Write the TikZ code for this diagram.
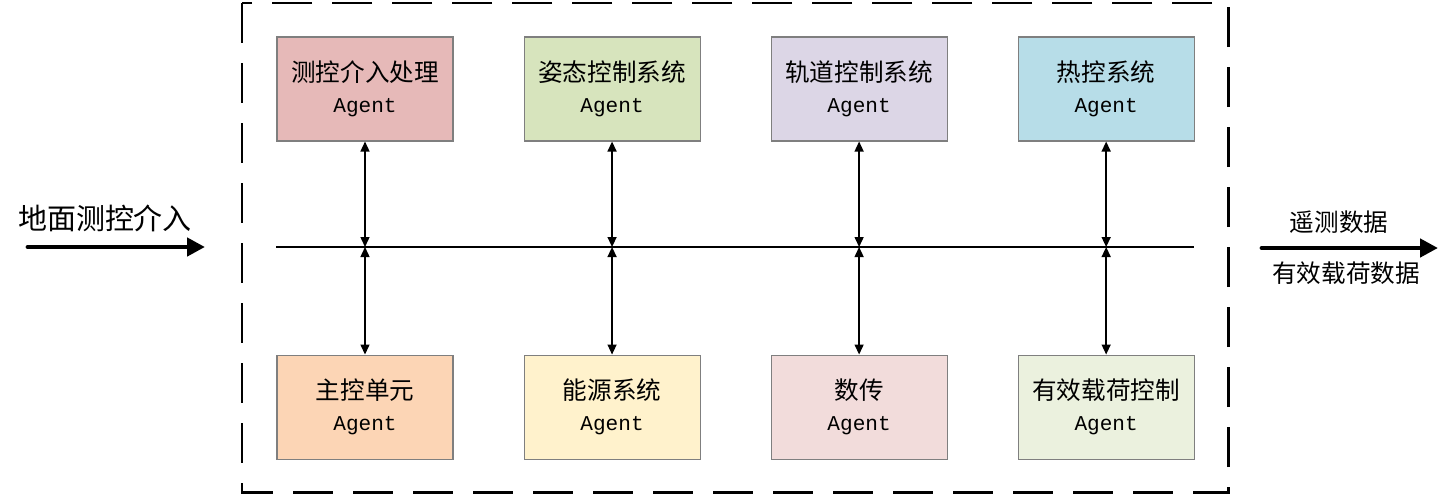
\documentclass[tikz,border=0pt]{standalone}
\usepackage{fontspec}
\newfontfamily\cjk{Noto Sans CJK SC}
\newfontfamily\agentfont{Liberation Mono}
\definecolor{boxGray}{RGB}{127, 127, 127}
\definecolor{ttcRed}{RGB}{230, 185, 184}
\definecolor{adcsGreen}{RGB}{215, 228, 189}
\definecolor{orbLilac}{RGB}{220, 214, 230}
\definecolor{thermBlue}{RGB}{183, 221, 232}
\definecolor{obcPeach}{RGB}{252, 213, 181}
\definecolor{powYellow}{RGB}{255, 242, 204}
\definecolor{dtPink}{RGB}{242, 220, 219}
\definecolor{plGreen}{RGB}{235, 241, 222}
\usetikzlibrary{positioning, arrows.meta}

\newcommand{\agentlabel}[1]{{\cjk #1}\\{\agentfont\fontsize{12}{17.6}\selectfont Agent}}

\begin{document}
\begin{tikzpicture}[
    node distance=4.26cm and 1.4cm,
    agent/.style={rectangle, draw=boxGray, line width=0.6pt, minimum width=3.52cm,
                  minimum height=2.08cm, align=center, inner sep=0pt,
                  font=\fontsize{14}{17.6}\selectfont},
    frame/.style={draw=black, line width=1.7pt, dash pattern=on 0.8cm off 0.4cm},
    link/.style={{Triangle[length=0.2cm, width=0.18cm]}-{Triangle[length=0.2cm, width=0.18cm]}, line width=0.8pt},
    bigarrow/.style={-{Triangle[length=0.36cm, width=0.36cm]}, line width=2.8pt, line cap=round},
    lbl/.style={font=\cjk\fontsize{14}{17}\selectfont, inner sep=0pt},
  ]
    \useasboundingbox (0,0) rectangle (28.8,-9.92);

    % outer dashed frame
    \draw[frame] (4.84,-0.06) rectangle (24.56,-9.84);

    % upper agents
    \node[agent, fill=ttcRed] (TTC) at (7.3,-1.78) {\agentlabel{测控介入处理}};
    \node[agent, fill=adcsGreen, right=of TTC] (ADCS) {\agentlabel{姿态控制系统}};
    \node[agent, fill=orbLilac, right=of ADCS] (ORB) {\agentlabel{轨道控制系统}};
    \node[agent, fill=thermBlue, right=of ORB] (THERM) {\agentlabel{热控系统}};

    % lower agents
    \node[agent, fill=obcPeach, below=of TTC] (OBC) {\agentlabel{主控单元}};
    \node[agent, fill=powYellow, below=of ADCS] (POW) {\agentlabel{能源系统}};
    \node[agent, fill=dtPink, below=of ORB] (DT) {\agentlabel{数传}};
    \node[agent, fill=plGreen, below=of THERM] (PL) {\agentlabel{有效载荷控制}};

    % bus
    \coordinate (busL) at (5.52,-4.94);
    \coordinate (busR) at (23.88,-4.94);
    \draw[line width=0.8pt] (busL) -- (busR);
    \foreach \up/\down [count=\i] in {TTC/OBC, ADCS/POW, ORB/DT, THERM/PL}{
      \coordinate (bus\i) at (\up |- busL);
      \draw[link] (\up) -- (bus\i);
      \draw[link] (\down) -- (bus\i);
    }

    % ground input
    \coordinate (inL) at (0.56,-4.94);
    \coordinate (inR) at (4.1,-4.94);
    \draw[bigarrow] (inL) -- (inR);
    \node[lbl, font=\cjk\fontsize{16.5}{18}\selectfont] (GND) at (2.1,-4.36) {地面测控介入};

    % telemetry output
    \coordinate (outL) at (25.24,-4.96);
    \coordinate (outR) at (28.76,-4.96);
    \draw[bigarrow] (outL) -- (outR);
    \node[lbl] (TM) at (26.78,-4.44) {遥测数据};
    \node[lbl] (PLD) at (26.92,-5.46) {有效载荷数据};
  \end{tikzpicture}
\end{document}
